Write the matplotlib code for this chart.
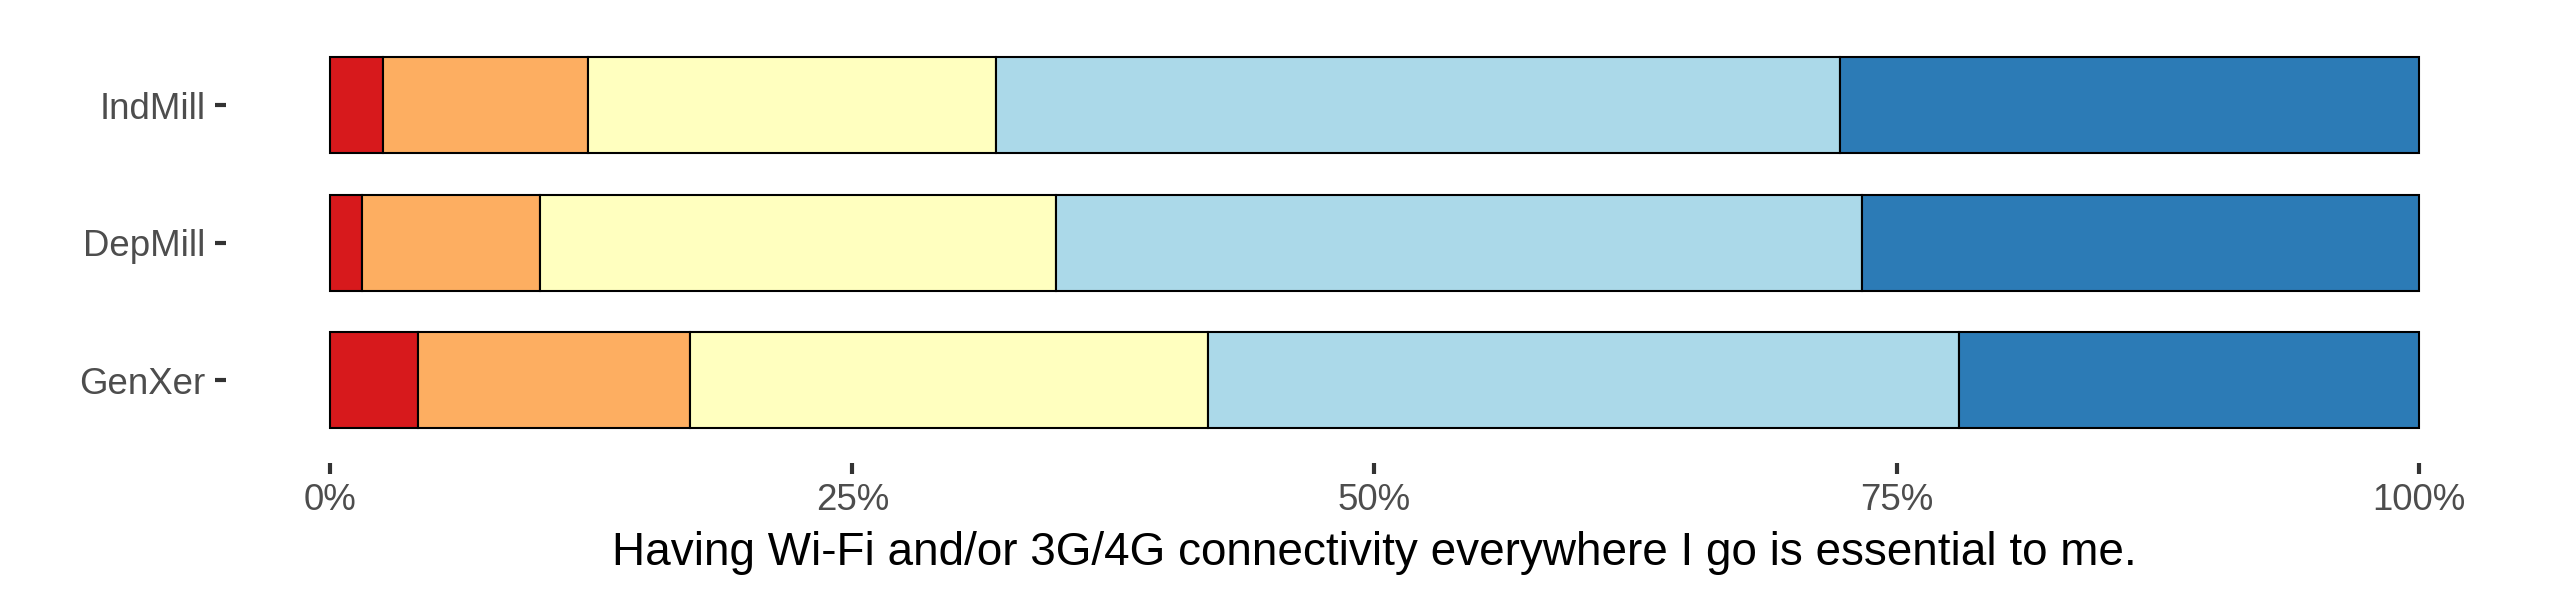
import matplotlib
matplotlib.use("Agg")
import matplotlib.pyplot as plt
import numpy as np
from matplotlib.ticker import PercentFormatter

plt.rcParams['font.family'] = ['Liberation Sans', 'DejaVu Sans']

# data: share of answers per generation (bottom row first)
groups = ['GenXer', 'DepMill', 'IndMill']
levels = ['Strongly disagree', 'Disagree', 'Neutral', 'Agree', 'Strongly agree']
colors = ['#d7191c', '#fdae61', '#ffffbf', '#abd9e9', '#2c7bb6']

shares = {
    'GenXer':  [0.0420, 0.1303, 0.2482, 0.3593, 0.2202],
    'DepMill': [0.0151, 0.0853, 0.2473, 0.3859, 0.2664],
    'IndMill': [0.0254, 0.0980, 0.1955, 0.4042, 0.2769],
}

x_ticks = [0, 0.25, 0.5, 0.75, 1.0]
x_title = 'Having Wi-Fi and/or 3G/4G connectivity everywhere I go is essential to me.'


def main() -> None:
    fig = plt.figure(figsize=(8.5, 2), dpi=300)
    ax = fig.add_axes([0.0886, 0.2287, 0.9008, 0.7333])

    ypos = np.arange(len(groups))
    values = np.array([shares[g] for g in groups])
    lefts = np.hstack([np.zeros((len(groups), 1)), np.cumsum(values, axis=1)[:, :-1]])

    for i, level in enumerate(levels):
        ax.barh(ypos, values[:, i], left=lefts[:, i], height=0.7,
                color=colors[i], edgecolor='black', linewidth=0.5, label=level)

    ax.set_xlim(-0.05, 1.05)
    ax.set_ylim(-0.6, len(groups) - 0.4)
    ax.set_yticks(ypos)
    ax.set_yticklabels(groups)
    ax.set_xticks(x_ticks)
    ax.xaxis.set_major_formatter(PercentFormatter(xmax=1, decimals=0))

    for side in ['top', 'right', 'bottom', 'left']:
        ax.spines[side].set_visible(False)

    ax.tick_params(axis='both', length=2.75, width=1.0, color='#333333',
                   labelcolor='#4d4d4d', labelsize=8.8, pad=2.2)
    ax.set_xlabel(x_title, fontsize=11, color='black', labelpad=3)

    fig.savefig('out.png', dpi=300)
    plt.close(fig)


if __name__ == '__main__':
    main()
